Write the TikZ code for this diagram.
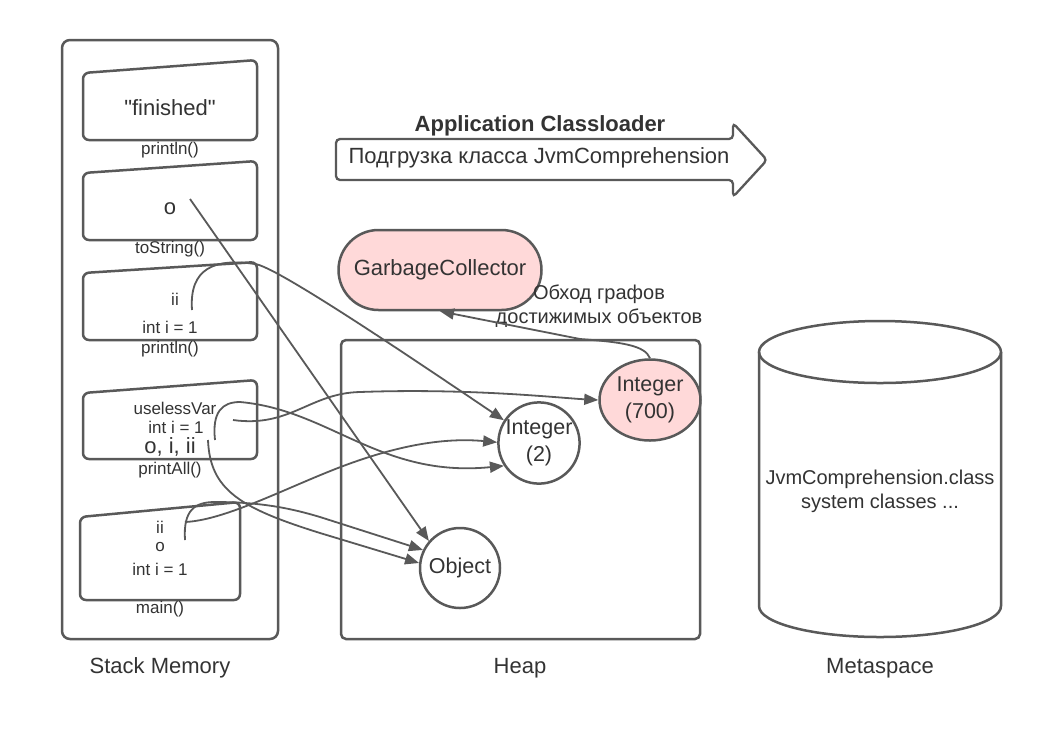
\documentclass[tikz,border=0pt]{standalone}
\usepackage{fontspec}
\setmainfont{Liberation Sans}
\usetikzlibrary{shapes.geometric,arrows.meta}
\definecolor{ln}{HTML}{595959}
\definecolor{tx}{HTML}{333333}
\definecolor{pinkf}{HTML}{FFD9D9}
\begin{document}
\begin{tikzpicture}[x=1pt,y=-1pt,
  box/.style={draw=ln,line width=2.5pt,rounded corners=6pt},
  conn/.style={draw=ln,line width=1.8pt,-{Triangle[length=14pt,width=11pt]}},
  big/.style={text=tx,inner sep=0pt,font=\fontsize{22}{27}\selectfont},
  mid/.style={text=tx,inner sep=0pt,font=\fontsize{20}{24}\selectfont},
  small/.style={text=tx,inner sep=0pt,font=\fontsize{17}{20}\selectfont},
  obj/.style={draw=ln,line width=2.5pt,fill=white,align=center,text=tx,inner sep=0pt,font=\fontsize{21.5}{27}\selectfont}
]
\useasboundingbox (0,0) rectangle (1040,740);
\fill[white] (0,0) rectangle (1040,740);

% Stack memory
\draw[box,rounded corners=8pt] (62,40) rectangle (278,639);
\draw[box] (83,73) -- (257,60) -- (257,140) -- (83,140) -- cycle;
\draw[box] (83,173) -- (257,161) -- (257,240) -- (83,240) -- cycle;
\draw[box] (83,273) -- (257,262) -- (257,340) -- (83,340) -- cycle;
\draw[box] (83,393) -- (257,380) -- (257,459) -- (83,459) -- cycle;
\draw[box] (80,517) -- (240,502) -- (240,600) -- (80,600) -- cycle;

\node[big] (tfin) at (170,108) {\textquotedbl finished\textquotedbl};
\node[small] (l1) at (170,150) {println()};
\node[big] (to) at (170,209) {o};
\node[small] (l2) at (170,249) {toString()};
\node[small] (t3a) at (175,299) {ii};
\node[small] (t3b) at (170,327) {int i = 1};
\node[small] (l3) at (170,349) {println()};
\node[small] (t4a) at (175,408) {uselessVar};
\node[small] (t4b) at (176,427) {int i = 1};
\node[big] (t4c) at (170,447) {o, i, ii};
\node[small] (l4) at (170,470) {printAll()};
\node[small] (t5a) at (160,527) {ii};
\node[small] (t5b) at (160,547) {o};
\node[small] (t5c) at (160,569) {int i = 1};
\node[small] (l5) at (160,609) {main()};
\node[big] (lstack) at (160,668) {Stack Memory};

% Classloader arrow
\draw[box,rounded corners=4pt,line width=2.3pt] (336,139) -- (733,139) -- (733,123) -- (767,160) -- (733,197) -- (733,180) -- (336,180) -- cycle;
\node[big,font=\bfseries\fontsize{22}{26}\selectfont] (acl) at (540,126) {Application Classloader};
\node[big] (pod) at (539,158) {Подгрузка класса JvmComprehension};

% Heap
\draw[box,rounded corners=5pt] (341,340) rectangle (700,639);
\node[big] (lheap) at (520,668) {Heap};

\node[obj,fill=pinkf,rectangle,rounded corners=40pt,minimum width=203pt,minimum height=80pt,font=\fontsize{22}{27}\selectfont] (gc) at (440,270) {GarbageCollector};
\node[mid,align=center,font=\fontsize{20}{24}\selectfont] (gctext) at (599,306) {Обход графов\\достижимых объектов};

\node[obj,fill=pinkf,ellipse,minimum width=101pt,minimum height=81pt] (i700) at (650,400) {Integer\\(700)};
\node[obj,circle,minimum size=79pt] (i2) at (539,443) {Integer\\(2)};
\node[obj,circle,minimum size=80pt] (ob) at (460,568) {Object};

% Metaspace
\draw[draw=ln,line width=2.5pt] (759,352) -- (759,606) arc[start angle=180,end angle=360,x radius=121,y radius=-31] -- (1001,352);
\draw[draw=ln,line width=2.5pt] (880,352) ellipse[x radius=121,y radius=31];
\node[mid,align=center,font=\fontsize{20}{24}\selectfont] (meta) at (880,491) {JvmComprehension.class\\system classes ...};
\node[big] (lmeta) at (880,668) {Metaspace};

% connector start points
\coordinate (s2) at (190,199);
\coordinate (s3) at (192,310);
\coordinate (s4a) at (233,420);
\coordinate (s4b) at (215,440);
\coordinate (s4c) at (208,440);
\coordinate (s5a) at (185,522);
\coordinate (s5b) at (185,540);

% connectors
\draw[conn] (s2) -- (ob.139);
\draw[conn] (s3) .. controls (189,268) and (215,258) .. (255,264) .. controls (275,266) and (400,350) .. (i2.147);
\draw[conn] (s4a) .. controls (290,428) and (310,393) .. (360,392) .. controls (470,388) and (560,398) .. (i700.west);
\draw[conn] (s4b) .. controls (212,412) and (222,402) .. (240,402) .. controls (330,410) and (380,478) .. (i2.213);
\draw[conn] (s4c) .. controls (210,490) and (240,508) .. (320,533) -- (ob.173);
\draw[conn] (s5b) .. controls (183,510) and (195,502) .. (215,502) .. controls (260,502) and (290,508) .. (320,517) -- (ob.154);
\draw[conn] (s5a) .. controls (230,520) and (300,480) .. (360,460) .. controls (410,443) and (450,438) .. (i2.179);
\draw[conn] (i700.north) .. controls (645,345) and (620,342) .. (580,339) -- (gc.south);
\end{tikzpicture}
\end{document}
